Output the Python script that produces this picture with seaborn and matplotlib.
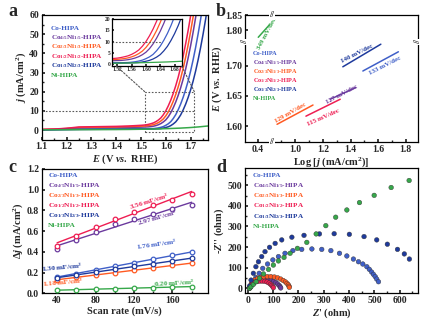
import numpy as np
import pandas as pd
import matplotlib
matplotlib.use("Agg")
import matplotlib.pyplot as plt
import matplotlib.transforms as mtrans
from matplotlib.patches import Rectangle, ConnectionPatch
import seaborn as sns

sns.set_theme(style="ticks")
plt.rcParams.update({
    "font.family": ["Liberation Serif", "DejaVu Serif"],
    "font.weight": "bold",
    "axes.labelweight": "bold",
    "mathtext.fontset": "custom",
    "mathtext.rm": "Liberation Serif:bold",
    "mathtext.it": "Liberation Serif:italic:bold",
    "mathtext.bf": "Liberation Serif:bold",
    "axes.linewidth": 0.9,
    "axes.edgecolor": "black",
    "xtick.direction": "in",
    "ytick.direction": "in",
    "xtick.labelsize": 7,
    "ytick.labelsize": 7,
    "xtick.major.size": 2.5,
    "ytick.major.size": 2.5,
    "xtick.minor.size": 1.5,
    "ytick.minor.size": 1.5,
    "xtick.major.pad": 2,
    "ytick.major.pad": 2,
})

# ---------------- shared sample names / colours ----------------
samples = ["Co-HIPA", "Co$_{4/5}$Ni$_{1/5}$-HIPA", "Co$_{2/3}$Ni$_{1/3}$-HIPA",
           "Co$_{1/2}$Ni$_{1/2}$-HIPA", "Co$_{1/3}$Ni$_{2/3}$-HIPA", "Ni-HIPA"]
colors = ["#3f5fc8", "#6b3a9e", "#ff5a22", "#ee1d52", "#1e3a9c", "#36a84a"]
pal = dict(zip(samples, colors))

# ---------------- panel a: LSV ----------------
E = [1.10, 1.15, 1.20, 1.25, 1.30, 1.35, 1.40, 1.45,
     1.50, 1.51, 1.52, 1.53, 1.54, 1.55, 1.56, 1.57, 1.58, 1.59,
     1.60, 1.61, 1.62, 1.63, 1.64, 1.65, 1.66, 1.67, 1.68, 1.69,
     1.70, 1.71, 1.72, 1.73, 1.74, 1.75, 1.76, 1.77]
j_co = [0.1, 0.2, 0.3, 0.4, 0.45, 0.5, 0.5, 0.55,
        0.6, 0.6, 0.62, 0.63, 0.7, 0.75, 0.9, 1.1, 1.4, 1.8,
        2.45, 3.25, 4.35, 6.0, 8.0, 10.6, 13.6, 17.1, 21.1, 25.6,
        30.8, 36.6, 43.0, 50.0, 57.6, 65.8, 74.8, 84.6]
j_co45 = [0.2, 0.4, 0.7, 1.1, 1.2, 1.25, 1.3, 1.4,
          1.5, 1.55, 1.6, 1.65, 1.8, 2.0, 2.3, 2.75, 3.35, 4.2,
          5.3, 6.9, 9.0, 11.6, 14.6, 18.1, 22.1, 26.6, 31.8, 37.6,
          44.0, 51.0, 58.6, 66.8, 75.8, 85.6, 96.0, 107.0]
j_co23 = [0.3, 0.45, 0.8, 1.3, 1.4, 1.5, 1.6, 1.8,
          2.0, 2.05, 2.15, 2.3, 2.5, 2.8, 3.25, 3.85, 4.7, 5.8,
          7.4, 9.4, 12.0, 15.0, 18.5, 22.5, 27.0, 32.2, 38.0, 44.4,
          51.4, 59.0, 67.2, 76.2, 86.0, 96.0, 107.0, 119.0]
j_co12 = [0.3, 0.5, 0.9, 1.6, 1.7, 1.8, 1.9, 2.1,
          2.45, 2.55, 2.7, 2.95, 3.3, 3.7, 4.35, 5.2, 6.3, 7.95,
          10.0, 12.6, 15.6, 19.1, 23.1, 27.6, 32.8, 38.6, 45.0, 52.0,
          59.6, 67.8, 76.8, 86.8, 97.0, 108.0, 120.0, 132.0]
j_co13 = [0.1, 0.15, 0.25, 0.3, 0.35, 0.4, 0.4, 0.45,
          0.5, 0.5, 0.5, 0.52, 0.53, 0.54, 0.6, 0.65, 0.75, 1.0,
          1.3, 1.7, 2.3, 3.15, 4.25, 5.9, 7.9, 10.5, 13.5, 17.0,
          21.0, 25.5, 30.7, 36.5, 42.9, 49.9, 57.5, 65.7]
j_ni = [0.1, 0.12, 0.15, 0.18, 0.2, 0.22, 0.25, 0.3,
        0.4, 0.42, 0.45, 0.48, 0.5, 0.53, 0.56, 0.6, 0.63, 0.67,
        0.7, 0.75, 0.8, 0.85, 0.9, 0.95, 1.0, 1.08, 1.15, 1.22,
        1.3, 1.4, 1.5, 1.6, 1.72, 1.85, 1.98, 2.1]
lsv = [j_co, j_co45, j_co23, j_co12, j_co13, j_ni]
df_a = pd.concat([pd.DataFrame({"E": E, "j": jj, "sample": s}) for s, jj in zip(samples, lsv)],
                 ignore_index=True)

# ---------------- panel b: Tafel ----------------
tafel_logj = {
    "Ni-HIPA": [0.404, 0.484],
    "Co$_{2/3}$Ni$_{1/3}$-HIPA": [0.868, 1.128],
    "Co$_{1/2}$Ni$_{1/2}$-HIPA": [1.077, 1.325],
    "Co$_{4/5}$Ni$_{1/5}$-HIPA": [1.253, 1.438],
    "Co$_{1/3}$Ni$_{2/3}$-HIPA": [1.344, 1.619],
    "Co-HIPA": [1.489, 1.746],
}
tafel_E = {
    "Ni-HIPA": [1.777, 1.818],
    "Co$_{2/3}$Ni$_{1/3}$-HIPA": [1.603, 1.635],
    "Co$_{1/2}$Ni$_{1/2}$-HIPA": [1.6165, 1.6446],
    "Co$_{4/5}$Ni$_{1/5}$-HIPA": [1.6446, 1.664],
    "Co$_{1/3}$Ni$_{2/3}$-HIPA": [1.6985, 1.736],
    "Co-HIPA": [1.6915, 1.7234],
}
tafel_labels = {
    "Ni-HIPA": "349 mV/dec",
    "Co$_{2/3}$Ni$_{1/3}$-HIPA": "129 mV/dec",
    "Co$_{1/2}$Ni$_{1/2}$-HIPA": "115 mV/dec",
    "Co$_{4/5}$Ni$_{1/5}$-HIPA": "127 mV/dec",
    "Co$_{1/3}$Ni$_{2/3}$-HIPA": "140 mV/dec",
    "Co-HIPA": "133 mV/dec",
}
df_b = pd.concat([pd.DataFrame({"logj": tafel_logj[s], "E": tafel_E[s], "sample": s}) for s in samples],
                 ignore_index=True)

# ---------------- panel c: double-layer capacitance ----------------
scan_rate = [40, 60, 80, 100, 120, 140, 160, 180]
dj = {
    "Co-HIPA": [0.16, 0.19, 0.225, 0.26, 0.295, 0.33, 0.365, 0.40],
    "Co$_{4/5}$Ni$_{1/5}$-HIPA": [0.43, 0.515, 0.593, 0.666, 0.714, 0.762, 0.815, 0.857],
    "Co$_{2/3}$Ni$_{1/3}$-HIPA": [0.13, 0.155, 0.175, 0.20, 0.225, 0.245, 0.27, 0.29],
    "Co$_{1/2}$Ni$_{1/2}$-HIPA": [0.46, 0.555, 0.644, 0.72, 0.787, 0.85, 0.905, 0.962],
    "Co$_{1/3}$Ni$_{2/3}$-HIPA": [0.15, 0.175, 0.205, 0.235, 0.26, 0.285, 0.31, 0.34],
    "Ni-HIPA": [0.03, 0.035, 0.04, 0.045, 0.05, 0.055, 0.06, 0.065],
}
cdl_labels = ["1.76 mF/cm$^{2}$", "2.97 mF/cm$^{2}$", "1.18 mF/cm$^{2}$",
              "3.56 mF/cm$^{2}$", "1.30 mF/cm$^{2}$", "0.20 mF/cm$^{2}$"]

# ---------------- panel d: Nyquist ----------------
z_re = {
    "Co-HIPA": [9, 20, 32, 45, 59, 78, 99, 121, 147, 178, 213, 253, 292, 328, 362, 391,
                417, 437, 454, 470, 480, 489, 496, 503, 509, 516],
    "Co$_{4/5}$Ni$_{1/5}$-HIPA": [8, 11, 16, 23, 32, 43, 55, 68, 80, 92, 102, 111, 118, 124, 128, 130],
    "Co$_{2/3}$Ni$_{1/3}$-HIPA": [8, 10, 14, 20, 28, 38, 50, 63, 77, 91, 105, 118, 130, 140, 149,
                                 155, 160, 163, 164],
    "Co$_{1/2}$Ni$_{1/2}$-HIPA": [8, 10, 14, 20, 28, 37, 47, 57, 67, 76, 84, 90, 95, 99, 101],
    "Co$_{1/3}$Ni$_{2/3}$-HIPA": [7, 13, 22, 32, 42, 55, 68, 86, 108, 134, 174, 222, 283, 341,
                                 401, 459, 509, 551, 591, 618, 638],
    "Ni-HIPA": [7, 13, 22, 33, 46, 62, 82, 101, 121, 143, 167, 196, 233, 270, 308, 347, 391,
                441, 499, 566, 637],
}
z_im = {
    "Co-HIPA": [8, 28, 53, 73, 97, 118, 138, 154, 170, 183, 189, 191, 189, 183, 170, 157,
                142, 129, 118, 105, 92, 79, 68, 57, 45, 32],
    "Co$_{4/5}$Ni$_{1/5}$-HIPA": [2, 12, 21, 29, 35, 39, 41, 42, 41, 38, 34, 28, 21, 14, 7, 2],
    "Co$_{2/3}$Ni$_{1/3}$-HIPA": [2, 12, 22, 32, 41, 48, 53, 56, 57, 57, 55, 51, 45, 38, 31,
                                 24, 17, 10, 5],
    "Co$_{1/2}$Ni$_{1/2}$-HIPA": [2, 10, 18, 25, 30, 33, 35, 35, 34, 31, 26, 20, 14, 8, 3],
    "Co$_{1/3}$Ni$_{2/3}$-HIPA": [11, 40, 73, 105, 129, 154, 178, 199, 218, 235, 248, 257, 264, 265,
                                 262, 251, 235, 214, 189, 167, 142],
    "Ni-HIPA": [0, 8, 19, 32, 49, 70, 92, 113, 133, 150, 170, 194, 223, 264, 304, 345, 380,
                416, 451, 489, 523],
}
df_d = pd.concat([pd.DataFrame({"zre": z_re[s], "zim": z_im[s], "sample": s}) for s in samples],
                 ignore_index=True)

# =====================================================================
fig = plt.figure(figsize=(4.27, 3.26), dpi=100)
W, H = 427.0, 326.0


def add_ax(l, t, r, b):
    return fig.add_axes([l / W, 1 - b / H, (r - l) / W, (b - t) / H])


def text_legend(ax, x0, y0, dy, fs):
    for i, (s, c) in enumerate(zip(samples, colors)):
        ax.text(x0, y0 - i * dy, s, color=c, fontsize=fs, transform=ax.transAxes,
                ha="left", va="center", fontweight="bold")


ax_a = add_ax(41.7, 15, 208, 139.6)
ax_b = add_ax(245, 15, 418, 142)
ax_c = add_ax(41.7, 169, 208, 293.3)
ax_d = add_ax(245, 167.5, 418, 293.3)

# ---------- a ----------
sns.lineplot(data=df_a, x="E", y="j", hue="sample", palette=pal, hue_order=samples,
             estimator=None, sort=False, lw=1.1, legend=False, ax=ax_a)
ax_a.set_xlim(1.1, 1.77)
ax_a.set_ylim(-5, 60)
ax_a.set_xticks([1.1, 1.2, 1.3, 1.4, 1.5, 1.6, 1.7])
ax_a.set_xticks([1.15, 1.25, 1.35, 1.45, 1.55, 1.65, 1.75], minor=True)
ax_a.set_yticks([0, 10, 20, 30, 40, 50, 60])
ax_a.set_yticks([5, 15, 25, 35, 45, 55], minor=True)
ax_a.set_xlabel("$E$ (V $vs.$ RHE)", fontsize=7.5, labelpad=1)
ax_a.set_ylabel("$j$ (mA/cm$^{2}$)", fontsize=7.5, labelpad=1)
ax_a.axhline(10, xmin=0, xmax=(1.715 - 1.1) / 0.67, color="0.35", ls=(0, (1.5, 1.5)), lw=0.8)
ax_a.add_patch(Rectangle((1.515, -1), 0.2, 21, fill=False, ec="0.35", ls=(0, (1.5, 1.5)), lw=0.8))
text_legend(ax_a, 0.054, 0.893, 0.075, 5.2)

ax_in = add_ax(112, 19, 181.7, 66)
sns.lineplot(data=df_a, x="E", y="j", hue="sample", palette=pal, hue_order=samples,
             estimator=None, sort=False, lw=0.9, legend=False, ax=ax_in)
ax_in.set_xlim(1.505, 1.70)
ax_in.set_ylim(-0.8, 20)
ax_in.set_xticks([1.52, 1.56, 1.60, 1.64, 1.68])
ax_in.set_xticklabels(["1.52", "1.56", "1.60", "1.64", "1.68"])
ax_in.set_yticks([0, 5, 10, 15, 20])
ax_in.tick_params(labelsize=4.0, length=1.5, pad=1)
ax_in.set_xlabel("")
ax_in.set_ylabel("")
ax_in.axhline(10, xmin=0, xmax=0.7, color="0.35", ls=(0, (1.5, 1.5)), lw=0.8)
for xa, xb in [((1.515, 20), (0.06, 0.0)), ((1.715, 20), (1.0, 0.0))]:
    cp = ConnectionPatch(xyA=xa, coordsA=ax_a.transData, xyB=xb, coordsB=ax_in.transAxes,
                         color="0.35", ls=(0, (1.5, 1.5)), lw=0.8)
    fig.add_artist(cp)

# ---------- b ----------
bx_xp, bx_fp = [-5, 0.5, 0.83, 5], [-5, 0.5, 0.502, 4.672]
by_xp, by_fp = [0, 1.74, 1.763, 3], [0, 1.74, 1.7405, 2.359]
ax_b.set_xscale("function", functions=(lambda x: np.interp(x, bx_xp, bx_fp),
                                       lambda u: np.interp(u, bx_fp, bx_xp)))
ax_b.set_yscale("function", functions=(lambda y: np.interp(y, by_xp, by_fp),
                                       lambda v: np.interp(v, by_fp, by_xp)))
sns.lineplot(data=df_b, x="logj", y="E", hue="sample", palette=pal, hue_order=samples,
             estimator=None, sort=False, lw=1.1, legend=False, ax=ax_b)
ax_b.set_xlim(0.308, 1.888)
ax_b.set_ylim(1.5736, 1.851)
ax_b.set_xticks([0.4, 1.0, 1.2, 1.4, 1.6, 1.8])
ax_b.set_xticklabels(["0.4", "1.0", "1.2", "1.4", "1.6", "1.8"])
ax_b.xaxis.set_minor_locator(matplotlib.ticker.FixedLocator([0.9, 1.1, 1.3, 1.5, 1.7]))
ax_b.set_yticks([1.60, 1.65, 1.70, 1.80, 1.85])
ax_b.set_yticklabels(["1.60", "1.65", "1.70", "1.80", "1.85"])
ax_b.yaxis.set_minor_locator(matplotlib.ticker.NullLocator())
ax_b.set_xlabel("Log [$j$ (mA/cm$^{2}$)]", fontsize=7.5, labelpad=1)
ax_b.set_ylabel("$E$ (V $vs.$ RHE)", fontsize=7.5, labelpad=1)
tafel_text_pos = {
    "Ni-HIPA": (0.47, 1.789, 62),
    "Co$_{2/3}$Ni$_{1/3}$-HIPA": (0.964, 1.6215, 30),
    "Co$_{1/2}$Ni$_{1/2}$-HIPA": (1.202, 1.615, 24),
    "Co$_{4/5}$Ni$_{1/5}$-HIPA": (1.339, 1.652, 28),
    "Co$_{1/3}$Ni$_{2/3}$-HIPA": (1.448, 1.7207, 27),
    "Co-HIPA": (1.650, 1.7008, 27),
}
for s in samples:
    x, y, rot = tafel_text_pos[s]
    ax_b.text(x, y, tafel_labels[s], color=pal[s], fontsize=5.0, rotation=rot,
              ha="center", va="center", rotation_mode="anchor")
tb = mtrans.blended_transform_factory(ax_b.transData, ax_b.transAxes)
for yy in (0, 1):
    ax_b.text(0.66, yy, "//", transform=tb, ha="center", va="center", fontsize=6.5,
              bbox=dict(fc="white", ec="none", pad=0.4), clip_on=False)
tby = mtrans.blended_transform_factory(ax_b.transAxes, ax_b.transData)
for xx in (0, 1):
    ax_b.text(xx, 1.751, "//", transform=tby, ha="center", va="center", fontsize=6.5,
              rotation=90, bbox=dict(fc="white", ec="none", pad=0.4), clip_on=False)
text_legend(ax_b, 0.045, 0.698, 0.071, 4.5)

# ---------- c ----------
for s, lab in zip(samples, cdl_labels):
    sns.regplot(x=scan_rate, y=dj[s], ax=ax_c, ci=None, color=pal[s], marker="o",
                scatter_kws=dict(s=11, facecolor="white", linewidths=0.9, alpha=1, zorder=3),
                line_kws=dict(lw=1.0))
ax_c.set_xlim(24, 197)
ax_c.set_ylim(0, 1.2)
ax_c.set_xticks([40, 80, 120, 160])
ax_c.set_xticks([60, 100, 140, 180], minor=True)
ax_c.set_yticks([0, 0.2, 0.4, 0.6, 0.8, 1.0, 1.2])
ax_c.set_yticklabels(["0.0", "0.2", "0.4", "0.6", "0.8", "1.0", "1.2"])
ax_c.set_xlabel("Scan rate (mV/s)", fontsize=7.5, labelpad=1)
ax_c.set_ylabel("$\\Delta j$ (mA/cm$^{2}$)", fontsize=7.5, labelpad=1)
cdl_pos = [(144, 0.47, 8), (144, 0.73, 16), (46, 0.10, 5), (136, 0.89, 17), (45, 0.25, 5), (162, 0.10, 3)]
for s, lab, (x, y, r) in zip(samples, cdl_labels, cdl_pos):
    ax_c.text(x, y, lab, color=pal[s], fontsize=5.3, rotation=r, ha="center", va="center",
              rotation_mode="anchor")
text_legend(ax_c, 0.04, 0.945, 0.08, 5.3)

# ---------- d ----------
sns.scatterplot(data=df_d, x="zre", y="zim", hue="sample", palette=pal, hue_order=samples,
                s=11, linewidth=0.3, edgecolor="0.2", legend=False, ax=ax_d)
ax_d.set_xlim(-11, 672)
ax_d.set_ylim(-24, 586)
ax_d.set_xticks([0, 100, 200, 300, 400, 500, 600])
ax_d.set_yticks([0, 100, 200, 300, 400, 500])
ax_d.set_xticks([50, 150, 250, 350, 450, 550, 650], minor=True)
ax_d.set_yticks([50, 150, 250, 350, 450, 550], minor=True)
ax_d.set_xlabel("$Z$' (ohm)", fontsize=7.5, labelpad=1)
ax_d.set_ylabel("-$Z$'' (ohm)", fontsize=7.5, labelpad=1)
text_legend(ax_d, 0.045, 0.94, 0.082, 5.1)

for ax, lab, (px, py) in [(ax_a, "a", (8, 12)), (ax_b, "b", (216, 12)),
                          (ax_c, "c", (8, 168)), (ax_d, "d", (216, 168))]:
    fig.text(px / W, 1 - py / H, lab, fontsize=13, fontweight="bold", ha="left", va="center")

fig.savefig("out.png", dpi=100)
